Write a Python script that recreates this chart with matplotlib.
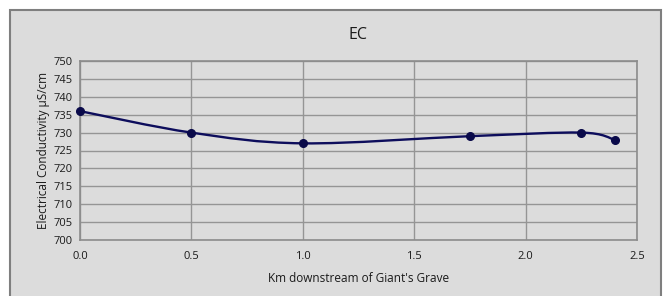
import numpy as np
import matplotlib
matplotlib.use("Agg")
import matplotlib.pyplot as plt
from matplotlib.path import Path
from matplotlib.patches import PathPatch, Rectangle

km = [0.0, 0.5, 1.0, 1.75, 2.25, 2.4]
ec = [736, 730, 727, 729, 730, 728]
x_ticks = [0.0, 0.5, 1.0, 1.5, 2.0, 2.5]
y_ticks = list(range(700, 751, 5))

plt.rcParams['font.family'] = ['Open Sans', 'DejaVu Sans']

W, H = 668, 296
fig = plt.figure(figsize=(W / 100, H / 100), dpi=100)
fig.patch.set_facecolor('white')
bg = '#dcdcdc'
fig.patches.append(Rectangle((10 / W, -0.05), (661 - 10) / W, 1.05 - 10 / H,
                             transform=fig.transFigure, facecolor=bg,
                             edgecolor='#7f7f7f', linewidth=1.5, zorder=-10))

ax = fig.add_axes([80 / W, 1 - 240 / H, (637 - 80) / W, (240 - 61) / H])
ax.set_facecolor(bg)
ax.set_xlim(0, 2.5)
ax.set_ylim(700, 750)
ax.set_xticks(x_ticks)
ax.set_xticklabels([f"{v:.1f}" for v in x_ticks])
ax.set_yticks(y_ticks)
ax.grid(True, color='#959595', linewidth=1.0)
ax.set_axisbelow(True)
for s in ax.spines.values():
    s.set_color('#8c8c8c')
    s.set_linewidth(1.2)
ax.tick_params(length=0, labelsize=8, colors='#1a1a1a', pad=5)
ax.tick_params(axis='x', pad=8)

# Smoothed line (Catmull-Rom style Bezier through data points, like Excel)
px = np.array(km, dtype=float)
py = np.array(ec, dtype=float)
verts = [(px[0], py[0])]
codes = [Path.MOVETO]
n = len(px)
t = 1 / 6
for i in range(n - 1):
    p0 = (px[i - 1], py[i - 1]) if i > 0 else (px[i], py[i])
    p1 = (px[i], py[i])
    p2 = (px[i + 1], py[i + 1])
    p3 = (px[i + 2], py[i + 2]) if i + 2 < n else (px[i + 1], py[i + 1])
    c1 = (p1[0] + (p2[0] - p0[0]) * t, p1[1] + (p2[1] - p0[1]) * t)
    c2 = (p2[0] - (p3[0] - p1[0]) * t, p2[1] - (p3[1] - p1[1]) * t)
    verts += [c1, c2, p2]
    codes += [Path.CURVE4] * 3
ax.add_patch(PathPatch(Path(verts, codes), facecolor='none',
                       edgecolor='#0d0d5c', linewidth=1.7, zorder=3, clip_on=False))
ax.plot(km, ec, linestyle='none', marker='o', markersize=5.5,
        color='#0a0a4a', zorder=4, clip_on=False)

ax.set_title('EC', fontsize=11.5, color='#1a1a1a', pad=16)
ax.set_xlabel("Km downstream of Giant's Grave", fontsize=8.5, color='#1a1a1a', labelpad=7)
ax.set_ylabel('Electrical Conductivity µS/cm', fontsize=8.5, color='#1a1a1a', labelpad=3)

fig.savefig('out.png', dpi=100, facecolor='white')
